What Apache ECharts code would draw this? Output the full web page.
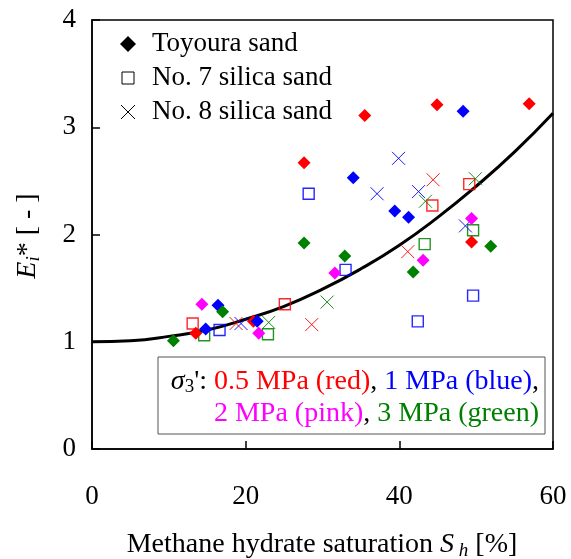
<!DOCTYPE html>
<html>
<head>
<meta charset="utf-8">
<script src="https://cdn.jsdelivr.net/npm/echarts@6/dist/echarts.min.js"></script>
<style>html,body{margin:0;padding:0;background:#fff;}#c{width:571px;height:559px;}</style>
</head>
<body>
<div id="c"></div>
<script>
// ---- data ----
const xTicks = [0, 20, 40, 60];
const yTicks = [0, 1, 2, 3, 4];

// Toyoura sand (diamonds)
const toyRed   = [[13.5,1.08],[21.0,1.19],[27.6,2.67],[35.5,3.11],[44.9,3.21],[49.4,1.93],[56.9,3.22]];
const toyBlue  = [[14.8,1.12],[16.4,1.34],[21.5,1.19],[34.0,2.53],[39.4,2.22],[41.2,2.16],[48.3,3.15]];
const toyPink  = [[14.3,1.35],[21.7,1.08],[31.6,1.64],[43.1,1.76],[49.4,2.15]];
const toyGreen = [[10.6,1.01],[17.0,1.28],[27.6,1.92],[32.9,1.80],[41.8,1.65],[51.9,1.89]];

// No. 7 silica sand (squares)
const no7Red   = [[13.1,1.17],[25.1,1.35],[44.3,2.27],[49.1,2.47]];
const no7Blue  = [[16.6,1.11],[28.2,2.38],[33.0,1.67],[42.4,1.19],[49.6,1.43]];
const no7Green = [[14.6,1.06],[22.9,1.07],[43.3,1.91],[49.6,2.04]];

// No. 8 silica sand (crosses)
const no8Red   = [[18.75,1.17],[28.6,1.16],[41.1,1.84],[44.4,2.51]];
const no8Blue  = [[19.4,1.17],[37.1,2.38],[39.9,2.71],[42.5,2.40],[48.6,2.08]];
const no8Green = [[23.0,1.18],[30.6,1.37],[43.4,2.31],[49.9,2.52]];

// fitted curve
const curveX = [0, 5, 10, 15, 20, 25, 30, 35, 40, 45, 50, 55, 60];
const curveY = [1.00, 1.01, 1.05, 1.11, 1.21, 1.33, 1.49, 1.68, 1.90, 2.16, 2.45, 2.77, 3.13];

const legendNames = ['Toyoura sand', 'No. 7 silica sand', 'No. 8 silica sand'];

// ---- styles ----
const FONT = 'Liberation Serif';
const RED = '#ff0000', BLUE = '#0000ff', PINK = '#ff00ff', GREEN = '#008000';
const XPATH = 'path://M0,0L10,10M0,10L10,0';

function diamonds(data, c) {
  return { type: 'scatter', data: data, symbol: 'diamond', symbolSize: [13, 13], z: 5,
    itemStyle: { color: c, opacity: 1 } };
}
function squares(data, c) {
  return { type: 'scatter', data: data, symbol: 'rect', symbolSize: 11, z: 4,
    itemStyle: { color: 'rgba(0,0,0,0)', borderColor: c, borderWidth: 1.4, opacity: 0.85 } };
}
function crosses(data, c) {
  return { type: 'scatter', data: data, symbol: XPATH, symbolSize: 13, z: 4,
    itemStyle: { color: 'rgba(0,0,0,0)', borderColor: c, borderWidth: 1, opacity: 0.9 } };
}

const series = [
  { type: 'line', data: curveX.map((x, i) => [x, curveY[i]]), smooth: true, showSymbol: false,
    symbol: 'none', lineStyle: { color: '#000', width: 3 }, z: 3, silent: true },
  diamonds(toyRed, RED), diamonds(toyBlue, BLUE), diamonds(toyPink, PINK), diamonds(toyGreen, GREEN),
  squares(no7Red, RED), squares(no7Blue, BLUE), squares(no7Green, GREEN),
  crosses(no8Red, RED), crosses(no8Blue, BLUE), crosses(no8Green, GREEN)
];

const chart = echarts.init(document.getElementById('c'), null, { renderer: 'canvas' });

const legendY = [44, 78, 112];
const legendGraphics = [
  { type: 'polygon', shape: { points: [[128, legendY[0]-8],[136, legendY[0]],[128, legendY[0]+8],[120, legendY[0]]] },
    style: { fill: '#000' } },
  { type: 'rect', shape: { x: 122, y: legendY[1]-6, width: 12, height: 12 },
    style: { fill: 'none', stroke: '#000', lineWidth: 1 } },
  { type: 'polyline', shape: { points: [[121, legendY[2]-7],[135, legendY[2]+7]] }, style: { stroke: '#000', lineWidth: 1 } },
  { type: 'polyline', shape: { points: [[121, legendY[2]+7],[135, legendY[2]-7]] }, style: { stroke: '#000', lineWidth: 1 } }
].concat(legendNames.map((n, i) => ({
  type: 'text', x: 152, y: legendY[i],
  style: { text: n, font: '27px "' + FONT + '"', fill: '#000', verticalAlign: 'middle' }
})));

const F = 28;
const annot = [
  { type: 'rect', shape: { x: 158, y: 357, width: 387, height: 77 },
    style: { fill: '#fff', stroke: '#555', lineWidth: 1 }, z: 10 },
  { type: 'text', x: 539, y: 382, z: 11,
    style: {
      text: '{s|σ}{sub|3}{k|\': }{r|0.5 MPa (red)}{k|, }{b|1 MPa (blue)}{k|,}',
      align: 'right', verticalAlign: 'middle',
      rich: {
        s: { fontFamily: FONT, fontSize: F, fontStyle: 'italic', fill: '#000' },
        sub: { fontFamily: FONT, fontSize: 19, fill: '#000', padding: [10, 0, 0, 0] },
        k: { fontFamily: FONT, fontSize: F, fill: '#000' },
        r: { fontFamily: FONT, fontSize: F, fill: RED },
        b: { fontFamily: FONT, fontSize: F, fill: BLUE }
      }
    } },
  { type: 'text', x: 539, y: 414, z: 11,
    style: {
      text: '{p|2 MPa (pink)}{k|, }{g|3 MPa (green)}',
      align: 'right', verticalAlign: 'middle',
      rich: {
        k: { fontFamily: FONT, fontSize: F, fill: '#000' },
        p: { fontFamily: FONT, fontSize: F, fill: PINK },
        g: { fontFamily: FONT, fontSize: F, fill: GREEN }
      }
    } }
];

const titles = [
  { type: 'text', x: 322, y: 545, z: 11,
    style: {
      text: '{n|Methane hydrate saturation }{i|S}{sub| h}{n| [%]}',
      align: 'center', verticalAlign: 'middle',
      rich: {
        n: { fontFamily: FONT, fontSize: F, fill: '#000' },
        i: { fontFamily: FONT, fontSize: F, fontStyle: 'italic', fill: '#000' },
        sub: { fontFamily: FONT, fontSize: 19, fontStyle: 'italic', fill: '#000', padding: [12, 0, 0, 0] }
      }
    } },
  { type: 'text', x: 28, y: 236, rotation: Math.PI / 2, z: 11,
    style: {
      text: '{i|E}{sub|i}{n|* [ - ]}',
      align: 'center', verticalAlign: 'middle',
      rich: {
        n: { fontFamily: FONT, fontSize: F, fill: '#000' },
        i: { fontFamily: FONT, fontSize: F, fontStyle: 'italic', fill: '#000' },
        sub: { fontFamily: FONT, fontSize: 19, fontStyle: 'italic', fill: '#000', padding: [12, 0, 0, 0] }
      }
    } }
];

chart.setOption({
  animation: false,
  backgroundColor: '#fff',
  grid: { left: 92, right: 18, top: 20, bottom: 110, show: true, borderColor: '#000', borderWidth: 1.5, backgroundColor: 'transparent' },
  xAxis: {
    type: 'value', min: xTicks[0], max: xTicks[xTicks.length - 1], interval: xTicks[1] - xTicks[0],
    axisLine: { show: true, lineStyle: { color: '#000', width: 1.5 } },
    axisTick: { show: true, inside: true, length: 8, lineStyle: { color: '#000', width: 1.5 } },
    axisLabel: { color: '#000', fontFamily: FONT, fontSize: 27, margin: 34 },
    splitLine: { show: false }
  },
  yAxis: {
    type: 'value', min: yTicks[0], max: yTicks[yTicks.length - 1], interval: yTicks[1] - yTicks[0],
    axisLine: { show: true, lineStyle: { color: '#000', width: 1.5 } },
    axisTick: { show: true, inside: true, length: 8, lineStyle: { color: '#000', width: 1.5 } },
    axisLabel: { color: '#000', fontFamily: FONT, fontSize: 27, margin: 16 },
    splitLine: { show: false }
  },
  series: series,
  graphic: legendGraphics.concat(annot, titles)
});
</script>
</body>
</html>
